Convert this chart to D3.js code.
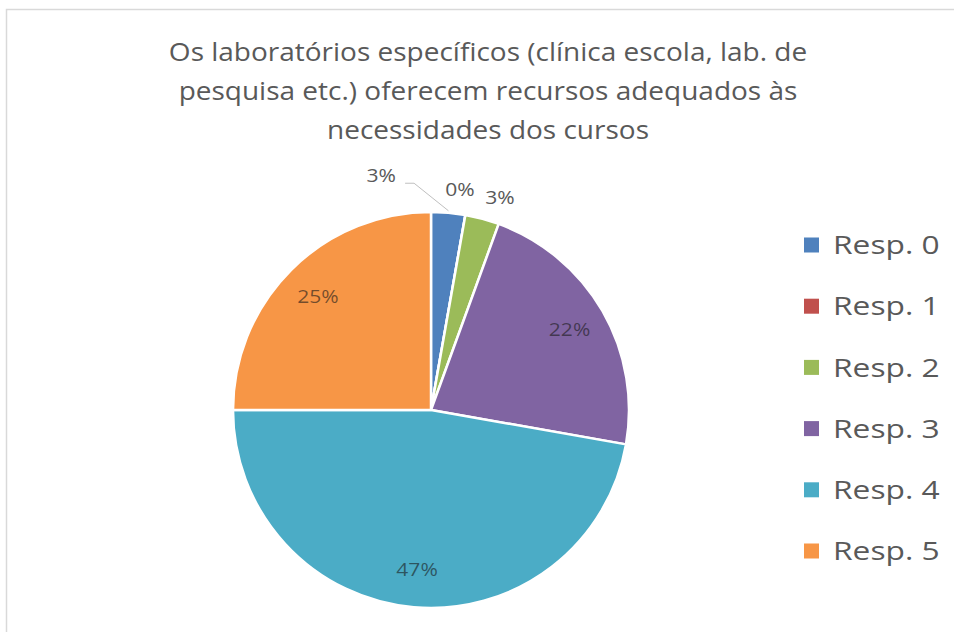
<!DOCTYPE html>
<html>
<head>
<meta charset="utf-8">
<script src="https://cdn.jsdelivr.net/npm/d3@7"></script>
<style>
  body { margin: 0; background: #fff; }
  svg { display: block; font-family: "Open Sans", sans-serif; }
</style>
</head>
<body>
<div id="viz"></div>
<script>
// chart data
const titleLines = [
  'Os laboratórios específicos (clínica escola, lab. de',
  'pesquisa etc.) oferecem recursos adequados às',
  'necessidades dos cursos'
];
const categories = ['Resp. 0', 'Resp. 1', 'Resp. 2', 'Resp. 3', 'Resp. 4', 'Resp. 5'];
const counts = [1, 0, 1, 8, 17, 9];
const colors = ['#4F81BD', '#C0504D', '#9BBB59', '#8064A2', '#4BACC6', '#F79646'];

const width = 954, height = 632;
const cx = 431, cy = 410, radius = 198;
const labelRadius = 160;
// the source picture is a bit stretched sideways, so text is widened too
const stretch = 1.17;
// small slices get their label pushed outside (angle shift in degrees, radius)
const outsideLabels = {0: {da: -17, r: 240, leader: true}, 1: {da: -2.5, r: 222}, 2: {da: 3, r: 223}};

const svg = d3.select('#viz')
  .append('svg')
  .attr('width', width)
  .attr('height', height);

// chart frame
svg.append('rect')
  .attr('x', 6.5).attr('y', 9.5)
  .attr('width', width + 10).attr('height', height + 10)
  .attr('fill', '#fff')
  .attr('stroke', '#d9d9d9')
  .attr('stroke-width', 1.5);

// title
svg.append('g')
  .selectAll('text')
  .data(titleLines)
  .enter()
  .append('text')
  .attr('transform', (d, i) => `translate(488,${61 + i * 39}) scale(1.12,1)`)
  .attr('text-anchor', 'middle')
  .attr('fill', '#595959')
  .style('font-size', '25px')
  .text(d => d);

const total = d3.sum(counts);
const pie = d3.pie().sort(null).value(d => d);
const arcs = pie(counts);
const arc = d3.arc().innerRadius(0).outerRadius(radius);
const labelArc = d3.arc().innerRadius(labelRadius).outerRadius(labelRadius);

const g = svg.append('g').attr('transform', `translate(${cx},${cy})`);

g.selectAll('path')
  .data(arcs)
  .enter()
  .append('path')
  .attr('d', arc)
  .attr('fill', (d, i) => colors[i])
  .attr('stroke', '#fff')
  .attr('stroke-width', 2.5)
  .attr('stroke-linejoin', 'round');

const pct = v => Math.round(v / total * 100) + '%';

function labelPos(d, i) {
  const o = outsideLabels[i];
  if (!o) return labelArc.centroid(d);
  const a = (d.startAngle + d.endAngle) / 2 + o.da * Math.PI / 180;
  return [Math.sin(a) * o.r, -Math.cos(a) * o.r];
}

// leader lines for pushed labels
arcs.forEach((d, i) => {
  const o = outsideLabels[i];
  if (!o || !o.leader) return;
  const [lx, ly] = labelPos(d, i);
  const mid = (d.startAngle + d.endAngle) / 2;
  const edge = [Math.sin(mid) * (radius + 2), -Math.cos(mid) * (radius + 2)];
  g.append('polyline')
    .attr('points', [[lx + 24, ly + 8], [lx + 33, ly + 8], edge].map(p => p.join(',')).join(' '))
    .attr('fill', 'none')
    .attr('stroke', '#bfbfbf')
    .attr('stroke-width', 1);
});

g.selectAll('text.label')
  .data(arcs)
  .enter()
  .append('text')
  .attr('class', 'label')
  .attr('transform', (d, i) => `translate(${labelPos(d, i)}) scale(${stretch},1)`)
  .attr('text-anchor', 'middle')
  .attr('dy', '0.35em')
  .attr('fill', (d, i) => outsideLabels[i] ? '#595959' : '#1a1a1a')
  .attr('fill-opacity', (d, i) => outsideLabels[i] ? 1 : 0.6)
  .style('font-size', '18px')
  .text(d => pct(d.value));

// legend
const legend = svg.append('g')
  .selectAll('g')
  .data(categories)
  .enter()
  .append('g')
  .attr('transform', (d, i) => `translate(804,${245 + i * 61.2})`);

legend.append('rect')
  .attr('x', 0).attr('y', -7.5)
  .attr('width', 15).attr('height', 15)
  .attr('fill', (d, i) => colors[i]);

legend.append('text')
  .attr('transform', 'translate(29,0) scale(1.22,1)')
  .attr('dy', '0.35em')
  .attr('fill', '#595959')
  .style('font-size', '26px')
  .text(d => d);
</script>
</body>
</html>
